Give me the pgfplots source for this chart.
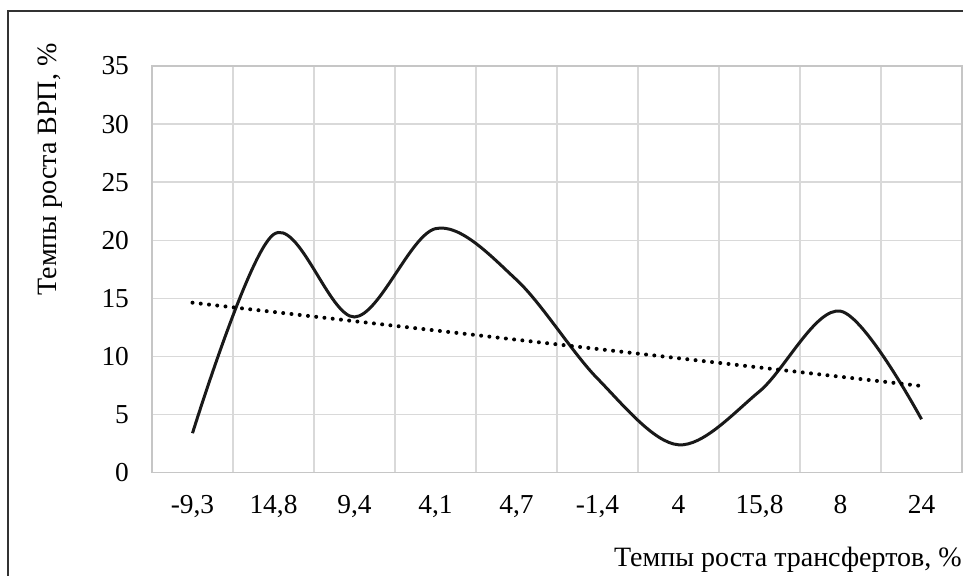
\documentclass[border=0pt]{standalone}
\usepackage{fontspec}
\setmainfont{Liberation Serif}
\usepackage{pgfplots}
\pgfplotsset{compat=1.18}
\begin{document}
\begin{tikzpicture}[x=0.5pt,y=0.5pt]
\useasboundingbox (0,0) rectangle (963,576);
\draw[line width=1.1pt, color=black!80] (8,-10) -- (8,565) -- (975,565);
\begin{axis}[
  at={(76pt,51.65pt)}, anchor=south west,
  scale only axis, width=405pt, height=203.35pt,
  xmin=-0.5, xmax=9.5, ymin=0, ymax=35,
  xtick={0,...,9},
  xticklabels={{-9,3},{14,8},{9,4},{4,1},{4,7},{-1,4},{4},{15,8},{8},{24}},
  ytick={0,5,...,35},
  minor xtick={0.5,1.5,...,8.5},
  xminorgrids, ymajorgrids,
  grid style={draw=gray!30, line width=0.75pt},
  minor grid style={draw=gray!30, line width=0.75pt},
  major tick length=0pt, minor tick length=0pt,
  axis line style={draw=gray!45, line width=0.8pt},
  tick label style={font=\fontsize{13.7}{16}\selectfont},
  /pgf/number format/assume math mode=true,
  yticklabel style={xshift=-8pt},
  xticklabel style={yshift=-8pt},
  clip=false,
]
\addplot[smooth, tension=0.55, line width=1.5pt, color=black!90] coordinates {
(0,3.4) (1,20.5) (2,13.4) (3,21.0) (4,16.6) (5,8.1) (6,2.4) (7,7.0) (8,13.9) (9,4.6)};
\addplot[black, line width=2pt, dash pattern=on 0pt off 4.15pt, line cap=round] coordinates {
(0,14.63) (9,7.46)};
\end{axis}
\node[rotate=90, font=\fontsize{14}{16}\selectfont, anchor=base, inner sep=0pt] at (56.7,406.5) {Темпы роста ВРП, \%};
\node[anchor=base east, font=\fontsize{14}{16}\selectfont, inner sep=0pt] at (962,9.3) {Темпы роста трансфертов, \%};
\end{tikzpicture}
\end{document}
